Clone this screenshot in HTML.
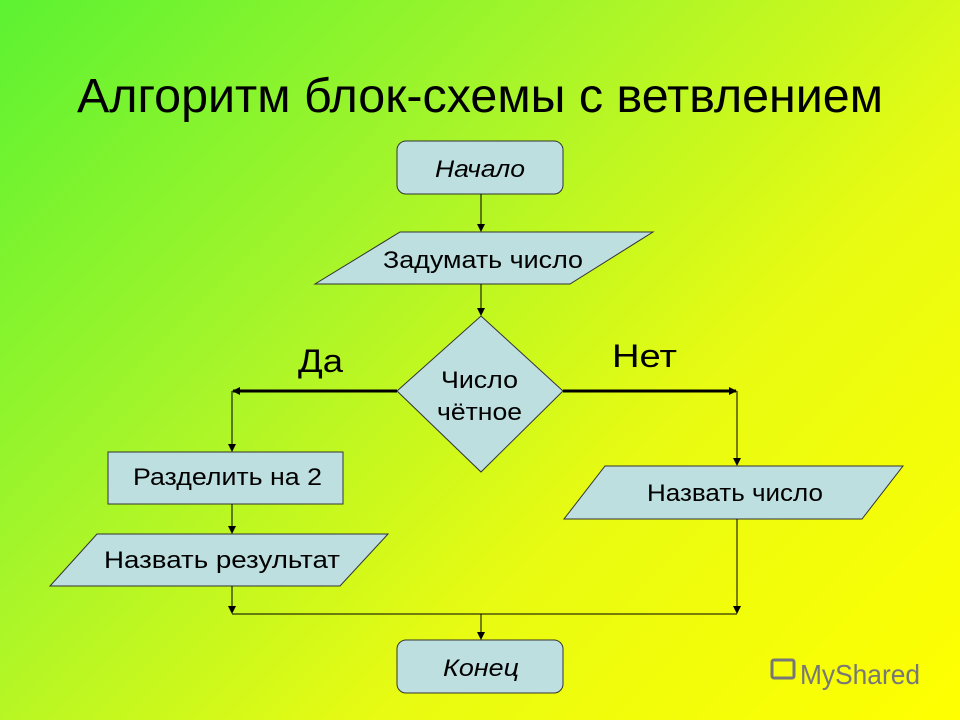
<!DOCTYPE html>
<html><head><meta charset="utf-8"><style>
html,body{margin:0;padding:0;width:960px;height:720px;overflow:hidden}
body{background:linear-gradient(135deg,#5cf232 0%,#a6f52a 35%,#e8fb12 65%,#ffff00 100%)}
svg{position:absolute;left:0;top:0}
text{font-family:"Liberation Sans",sans-serif;fill:#000}
</style></head><body>
<svg width="960" height="720" viewBox="0 0 960 720">
<defs><marker id="a" markerWidth="8" markerHeight="8" refX="7" refY="4" orient="auto" markerUnits="userSpaceOnUse"><path d="M0,0 L8,4 L0,8z" fill="#000"/></marker></defs>
<text x="480" y="112" font-size="48" text-anchor="middle" textLength="806" lengthAdjust="spacingAndGlyphs">Алгоритм блок-схемы с ветвлением</text>
<g stroke="#333" stroke-width="1" fill="#bddfe0">
<rect x="397" y="141" width="166" height="53" rx="9"/>
<polygon points="400,232 653,232 570,284 315,284"/>
<polygon points="481,316 563,391 481,472 397,391"/>
<rect x="108" y="452" width="235" height="52"/>
<polygon points="605,466 903,466 862,519 564,519"/>
<polygon points="97,534 388,534 340,586 50,586"/>
<rect x="397" y="640" width="166" height="53" rx="9"/>
</g>
<g stroke="#000" fill="none">
<line x1="481" y1="194" x2="481" y2="231" marker-end="url(#a)"/>
<line x1="481" y1="284" x2="481" y2="315" marker-end="url(#a)"/>
<line x1="397" y1="391" x2="233" y2="391" stroke-width="3" marker-end="url(#a)"/>
<line x1="563" y1="391" x2="736" y2="391" stroke-width="3" marker-end="url(#a)"/>
<line x1="232" y1="391" x2="232" y2="451" marker-end="url(#a)"/>
<line x1="737" y1="391" x2="737" y2="465" marker-end="url(#a)"/>
<line x1="232" y1="504" x2="232" y2="533" marker-end="url(#a)"/>
<line x1="232" y1="586" x2="232" y2="613" marker-end="url(#a)"/>
<line x1="737" y1="519" x2="737" y2="613" marker-end="url(#a)"/>
<line x1="232" y1="614" x2="737" y2="614"/>
<line x1="481" y1="614" x2="481" y2="639" marker-end="url(#a)"/>
</g>
<text x="435" y="177" font-size="24" font-style="italic" textLength="90" lengthAdjust="spacingAndGlyphs">Начало</text>
<text x="383" y="268" font-size="24" textLength="200" lengthAdjust="spacingAndGlyphs">Задумать число</text>
<text x="441" y="388" font-size="24" textLength="77" lengthAdjust="spacingAndGlyphs">Число</text>
<text x="437" y="420" font-size="24" textLength="85" lengthAdjust="spacingAndGlyphs">чётное</text>
<text x="298" y="372" font-size="32" textLength="45" lengthAdjust="spacingAndGlyphs">Да</text>
<text x="612" y="367" font-size="32" textLength="65" lengthAdjust="spacingAndGlyphs">Нет</text>
<text x="133" y="485" font-size="24" textLength="189" lengthAdjust="spacingAndGlyphs">Разделить на 2</text>
<text x="647" y="501" font-size="24" textLength="176" lengthAdjust="spacingAndGlyphs">Назвать число</text>
<text x="104" y="568" font-size="24" textLength="236" lengthAdjust="spacingAndGlyphs">Назвать результат</text>
<text x="443" y="676" font-size="24" font-style="italic" textLength="76" lengthAdjust="spacingAndGlyphs">Конец</text>
<rect x="772" y="660" width="22" height="18" rx="2" fill="none" stroke="#777" stroke-width="3"/>
<text x="800" y="684" font-size="28" style="fill:#777" textLength="120" lengthAdjust="spacingAndGlyphs">MyShared</text>
</svg>
</body></html>
